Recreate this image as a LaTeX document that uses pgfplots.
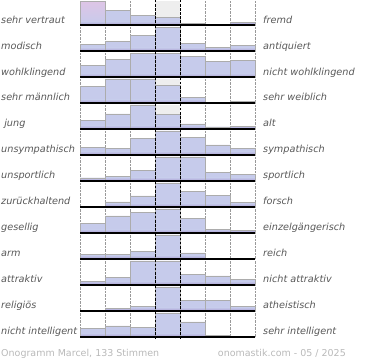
\documentclass[border=0pt]{standalone}
\usepackage{pgfplots}
\pgfplotsset{compat=1.18}
\usepackage{fontspec}
\setmainfont{DejaVu Sans}
\definecolor{barblue}{RGB}{198,203,235}
\definecolor{barpurple}{RGB}{170,158,210}
\definecolor{barpink}{RGB}{222,197,230}
\definecolor{labelgray}{RGB}{88,88,88}
\definecolor{footgray}{RGB}{185,185,185}
\definecolor{centergray}{RGB}{238,238,238}
\pgfplotsset{rowaxis/.style={
  scale only axis, width=175pt, height=24pt,
  xmin=0, xmax=7, ymin=0, ymax=24,
  anchor=south west,
  axis line style={draw=none},
  xtick={0,1,2,5,6,7}, xticklabels={}, ytick=\empty,
  major tick length=0pt,
  xmajorgrids, grid style={gray!80, densely dotted, line width=0.5pt},
  clip=false,
}}
\tikzset{
  dashline/.style={black, line width=0.8pt, dash pattern=on 2.5pt off 1.6pt},
  lbl/.style={font=\fontsize{9.7}{11}\selectfont\itshape, text=labelgray, inner sep=0pt},
  foot/.style={font=\fontsize{9.5}{11}\selectfont, text=footgray, inner sep=0pt},
}
% #1 baseline (px from top), #2 left label, #3 right label, #4 coordinates, #5 extra plots
\newcommand{\onorow}[5]{%
  \begin{axis}[rowaxis, at={(80pt,-#1pt)}]
    \fill[centergray] (axis cs:3,0) rectangle (axis cs:4,24);
    \addplot[ybar interval, fill=barblue, draw=none] coordinates {#4};
    #5
    \addplot[ybar interval, draw=none, top color=barblue, bottom color=barpurple,
      y filter/.expression={min(y,3.5)}] coordinates {#4};
    \addplot[ybar interval, fill=none, draw=gray!65, line width=0.6pt] coordinates {#4};
    \draw[dashline] (axis cs:3,-2) -- (axis cs:3,26);
    \draw[dashline] (axis cs:4,-2) -- (axis cs:4,26);
    \draw[black, line width=1.6pt] (axis cs:0,0) -- (axis cs:7,0);
  \end{axis}
  \node[lbl, anchor=base west] at (1pt,-#1pt+2pt) {#2};
  \node[lbl, anchor=base west] at (263pt,-#1pt+2pt) {#3};
}
\begin{document}
\begin{tikzpicture}
\path[use as bounding box] (0,0) rectangle (370pt,-360pt);
\onorow{25}{sehr vertraut}{fremd}{(0,24) (1,14.3) (2,9.7) (3,8) (4,1.7) (5,0) (6,2.7) (7,2.7)}
  {\addplot[ybar interval, draw=none, top color=barpink, bottom color=barblue] coordinates {(0,24) (1,24)};}
\onorow{51}{modisch}{antiquiert}{(0,6.7) (1,9.4) (2,15.4) (3,24) (4,7.4) (5,4) (6,5.4) (7,5.4)}{}
\onorow{77}{wohlklingend}{nicht wohlklingend}{(0,11.6) (1,17.6) (2,24) (3,24) (4,21) (5,15.6) (6,17) (7,17)}{}
\onorow{102.9}{sehr männlich}{sehr weiblich}{(0,16.6) (1,24) (2,24) (3,17.6) (4,5.6) (5,0) (6,1.6) (7,1.6)}{}
\onorow{128.9}{\ jung}{alt}{(0,8.5) (1,15) (2,24) (3,14.6) (4,5) (5,2) (6,2.6) (7,2.6)}{}
\onorow{154.9}{unsympathisch}{sympathisch}{(0,7.3) (1,6.3) (2,16.7) (3,24) (4,17.7) (5,10) (6,6.3) (7,6.3)}{}
\onorow{180.9}{unsportlich}{sportlich}{(0,3) (1,4.3) (2,10.3) (3,24) (4,24) (5,8.3) (6,6.6) (7,6.6)}{}
\onorow{206.9}{zurückhaltend}{forsch}{(0,0.7) (1,5) (2,11) (3,24) (4,15.6) (5,11.6) (6,4.6) (7,4.6)}{}
\onorow{232.8}{gesellig}{einzelgängerisch}{(0,9.7) (1,17) (2,20.7) (3,24) (4,14.7) (5,3.3) (6,2.3) (7,2.3)}{}
\onorow{258.8}{arm}{reich}{(0,4.6) (1,4.4) (2,7.6) (3,24) (4,6) (5,0) (6,0) (7,0)}{}
\onorow{284.8}{attraktiv}{nicht attraktiv}{(0,3.3) (1,7.5) (2,24) (3,24) (4,10.5) (5,9) (6,5.5) (7,5.5)}{}
\onorow{310.8}{religiös}{atheistisch}{(0,0) (1,2.4) (2,4.4) (3,24) (4,10.4) (5,10.4) (6,4.4) (7,4.4)}{}
\onorow{336.8}{nicht intelligent}{sehr intelligent}{(0,8.4) (1,11) (2,9.4) (3,24) (4,15) (5,1.7) (6,0) (7,0)}{}
\node[foot, anchor=base west] at (1pt,-356pt) {Onogramm Marcel, 133 Stimmen};
\node[foot, anchor=base east] at (346pt,-356pt) {onomastik.com - 05 / 2025};
\end{tikzpicture}
\end{document}
